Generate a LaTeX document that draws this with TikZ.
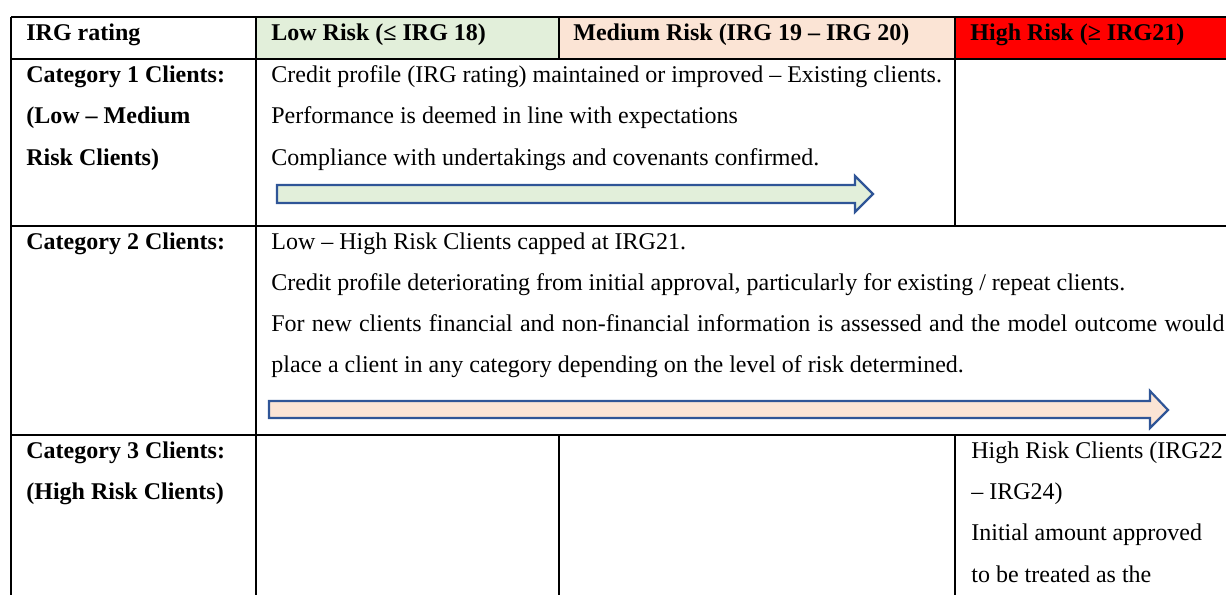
\documentclass[tikz,border=0pt]{standalone}
\usepackage{fontspec}
\setmainfont{Liberation Serif}
\usepackage{tikz}
\usetikzlibrary{positioning}

\definecolor{lowgreen}{HTML}{E2EFDA}
\definecolor{medpeach}{HTML}{FBE4D5}
\definecolor{highred}{HTML}{FF0000}
\definecolor{arrowblue}{HTML}{2F5597}

\begin{document}
\begin{tikzpicture}[
  x=0.5pt, y=-0.5pt,
  font=\fontsize{12}{14}\selectfont,
  rule/.style={line width=0.95pt},
  cell/.style={anchor=base west, inner sep=0pt},
  hdr/.style={cell, font=\fontsize{12}{14}\selectfont\bfseries},
  blockarrow/.style={draw=arrowblue, line width=1.1pt, line join=miter},
]
\useasboundingbox (0,0) rectangle (1226,595);

% header fills
\fill[lowgreen] (256,17) rectangle (559,59);
\fill[medpeach] (559,17) rectangle (955,59);
\fill[highred] (955,17) rectangle (1226,59);

% grid
\foreach \y in {17,59,226,435} \draw[rule] (11,\y) -- (1226,\y);
\foreach \x in {11,256} \draw[rule] (\x,17) -- (\x,595);
\draw[rule] (559,17) -- (559,59);
\draw[rule] (559,435) -- (559,595);
\draw[rule] (955,17) -- (955,226);
\draw[rule] (955,435) -- (955,595);

% header row
\node[hdr] (irg) at (26,40) {IRG rating};
\node[hdr] (low) at (271,40) {Low Risk (≤ IRG 18)};
\node[hdr] (med) at (573,40) {Medium Risk (IRG 19 – IRG 20)};
\node[hdr] (high) at (970,40) {High Risk (≥ IRG21)};

% category 1
\node[hdr] (cat1a) at (26,82) {Category 1 Clients:};
\node[hdr] (cat1b) at (26,123) {(Low – Medium};
\node[hdr] (cat1c) at (26,165) {Risk Clients)};
\node[cell] (one1) at (271,82) {Credit profile (IRG rating) maintained or improved – Existing clients.};
\node[cell] (one2) at (271,123) {Performance is deemed in line with expectations};
\node[cell] (one3) at (271,165) {Compliance with undertakings and covenants confirmed.};
\draw[blockarrow, fill=lowgreen] (277,185) -- (855,185) -- (855,176) -- (873,194)
  -- (855,212) -- (855,203) -- (277,203) -- cycle;

% category 2
\node[hdr] (cat2a) at (26,249) {Category 2 Clients:};
\node[cell] (two1) at (271,249) {Low – High Risk Clients capped at IRG21.};
\node[cell] (two2) at (271,290) {Credit profile deteriorating from initial approval, particularly for existing / repeat clients.};
\node[cell] (two3) at (271,331) {\makebox[476.5pt][s]{For new clients financial and non-financial information is assessed and the model outcome would}};
\node[cell] (two4) at (271,372) {place a client in any category depending on the level of risk determined.};
\draw[blockarrow, fill=medpeach] (269,401) -- (1150,401) -- (1150,391) -- (1168,410)
  -- (1150,428) -- (1150,418) -- (269,418) -- cycle;

% category 3
\node[hdr] (cat3a) at (26,458) {Category 3 Clients:};
\node[hdr] (cat3b) at (26,499) {(High Risk Clients)};
\node[cell] (three1) at (971,458) {High Risk Clients (IRG22};
\node[cell] (three2) at (971,499) {– IRG24)};
\node[cell] (three3) at (971,540) {Initial amount approved};
\node[cell] (three4) at (971,582) {to be treated as the};
\end{tikzpicture}
\end{document}
